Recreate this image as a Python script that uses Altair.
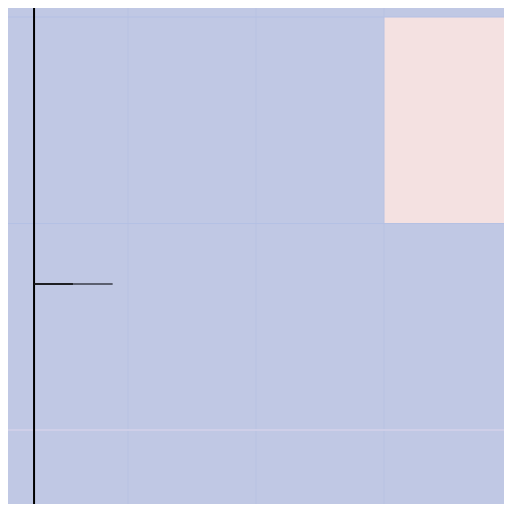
import altair as alt
import pandas as pd

# heatmap cells (column start, row start, level)
col_starts = [0, 1, 2, 3]
row_starts = [-1, 0, 1, 2]
cell_levels = [
    [0, 0, 0, 0],
    [0, 0, 0, 1],
    [0, 0, 0, 0],
    [0, 0, 0, 0],
]
level_colors = {0: "#c0c8e4", 1: "#f4e1e1"}

# grid lines
grid_cols = [1, 2, 3]
grid_rows = [0, 1]
grid_rows_light = [2]

# marker lines
marker_x = 0.266
marker_y = 1.293
marker_long_end = 0.88
marker_short_end = 0.57

cells = pd.DataFrame(
    [
        {"x": c, "x2": c + 1, "y": r, "y2": r + 1, "level": cell_levels[i][j]}
        for i, r in enumerate(row_starts)
        for j, c in enumerate(col_starts)
    ]
)

x_scale = alt.Scale(domain=[0.0625, 3.9375], nice=False, zero=False)
y_scale = alt.Scale(domain=[-0.0436, 2.358], nice=False, zero=False, reverse=True)

rects = (
    alt.Chart(cells)
    .mark_rect(clip=True)
    .encode(
        x=alt.X("x:Q", scale=x_scale, axis=None),
        x2="x2:Q",
        y=alt.Y("y:Q", scale=y_scale, axis=None),
        y2="y2:Q",
        color=alt.Color(
            "level:N",
            scale=alt.Scale(domain=list(level_colors.keys()), range=list(level_colors.values())),
            legend=None,
        ),
    )
)

vgrid = (
    alt.Chart(pd.DataFrame({"x": grid_cols}))
    .mark_rule(color="#b8c2e2", strokeWidth=1)
    .encode(x=alt.X("x:Q", scale=x_scale, axis=None))
)

hgrid = (
    alt.Chart(pd.DataFrame({"y": grid_rows}))
    .mark_rule(color="#b4c0e4", strokeWidth=1)
    .encode(y=alt.Y("y:Q", scale=y_scale, axis=None))
)

hgrid_light = (
    alt.Chart(pd.DataFrame({"y": grid_rows_light}))
    .mark_rule(color="#d4d2ea", strokeWidth=1.5)
    .encode(y=alt.Y("y:Q", scale=y_scale, axis=None))
)

vline = (
    alt.Chart(pd.DataFrame({"x": [marker_x]}))
    .mark_rule(color="#000000", strokeWidth=2)
    .encode(x=alt.X("x:Q", scale=x_scale, axis=None))
)

segments = pd.DataFrame(
    {
        "x": [marker_x, marker_x],
        "x2": [marker_long_end, marker_short_end],
        "y": [marker_y, marker_y],
        "shade": ["long", "short"],
    }
)

hlines = (
    alt.Chart(segments)
    .mark_rule(strokeWidth=1.6)
    .encode(
        x=alt.X("x:Q", scale=x_scale, axis=None),
        x2="x2:Q",
        y=alt.Y("y:Q", scale=y_scale, axis=None),
        color=alt.Color(
            "shade:N",
            scale=alt.Scale(domain=["long", "short"], range=["#3a3d48", "#0a0a0a"]),
            legend=None,
        ),
    )
)

chart = (
    alt.layer(rects, vgrid, hgrid, hgrid_light, vline, hlines)
    .resolve_scale(color="independent")
    .configure_view(stroke=None, strokeWidth=0)
    .properties(
        width=496,
        height=496,
        padding=0,
        autosize=alt.AutoSizeParams(type="none"),
        background="#c0c8e4",
    )
)

chart.save("out.html", embed_options={"renderer": "svg", "actions": False})
